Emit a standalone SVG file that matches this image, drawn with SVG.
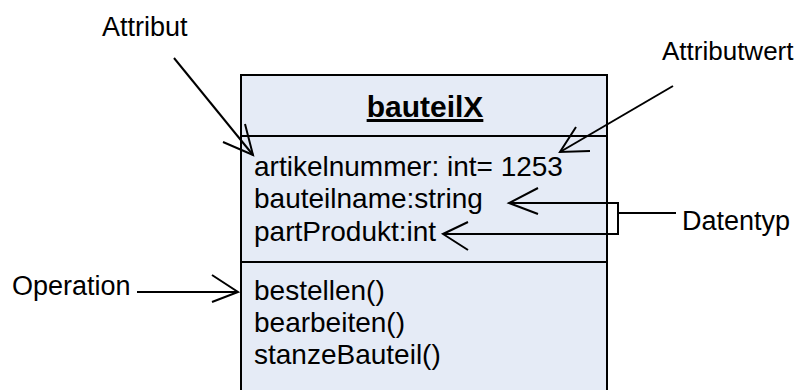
<svg xmlns="http://www.w3.org/2000/svg" width="804" height="390" viewBox="0 0 804 390">
  <style>
    .lbl { font-family: "Liberation Sans", Arial, sans-serif; font-size: 27px; fill: #000; }
    .member { font-family: "Liberation Sans", Arial, sans-serif; font-size: 28px; fill: #000; }
    .title { font-family: "Liberation Sans", Arial, sans-serif; font-size: 30px; font-weight: bold; fill: #000; text-decoration: underline; }
    .edge { stroke: #000; stroke-width: 2; fill: none; }
    .box { fill: #E5EBF6; stroke: #000; stroke-width: 2; }
  </style>
  <rect width="804" height="390" fill="#fff"/>

  <!-- class box bauteilX -->
  <g id="bauteilX">
    <rect class="box" x="241" y="75" width="366" height="330"/>
    <line class="edge" x1="241" y1="136" x2="607" y2="136"/>
    <line class="edge" x1="241" y1="262" x2="607" y2="262"/>
    <text class="title" x="425" y="117" text-anchor="middle">bauteilX</text>
    <text class="member" x="254" y="176">artikelnummer: int= 1253</text>
    <text class="member" x="254" y="208">bauteilname:string</text>
    <text class="member" x="254" y="241">partProdukt:int</text>
    <text class="member" x="254" y="300">bestellen()</text>
    <text class="member" x="254" y="332">bearbeiten()</text>
    <text class="member" x="254" y="364">stanzeBauteil()</text>
  </g>

  <!-- annotation labels -->
  <g id="label-attribut"><text class="lbl" x="102" y="36">Attribut</text></g>
  <g id="label-attributwert"><text class="lbl" x="662" y="60" style="font-size:26px">Attributwert</text></g>
  <g id="label-datentyp"><text class="lbl" x="682" y="230">Datentyp</text></g>
  <g id="label-operation"><text class="lbl" x="12" y="295">Operation</text></g>

  <!-- connectors with open arrowheads -->
  <g id="connectors">
    <line class="edge" x1="174" y1="58" x2="253" y2="155"/>
    <polyline class="edge" points="245,124 253,155 223,142"/>

    <line class="edge" x1="673" y1="86" x2="560" y2="152"/>
    <polyline class="edge" points="576,127 560,152 590,151"/>

    <polyline class="edge" points="509,203 618,203 618,234 443,234"/>
    <polyline class="edge" points="538,188 509,203 538,214"/>
    <polyline class="edge" points="468,222 443,234 468,250"/>
    <line class="edge" x1="618" y1="213" x2="676" y2="213"/>

    <line class="edge" x1="137" y1="292" x2="238" y2="292"/>
    <polyline class="edge" points="212,275 238,292 212,302"/>
  </g>
</svg>
